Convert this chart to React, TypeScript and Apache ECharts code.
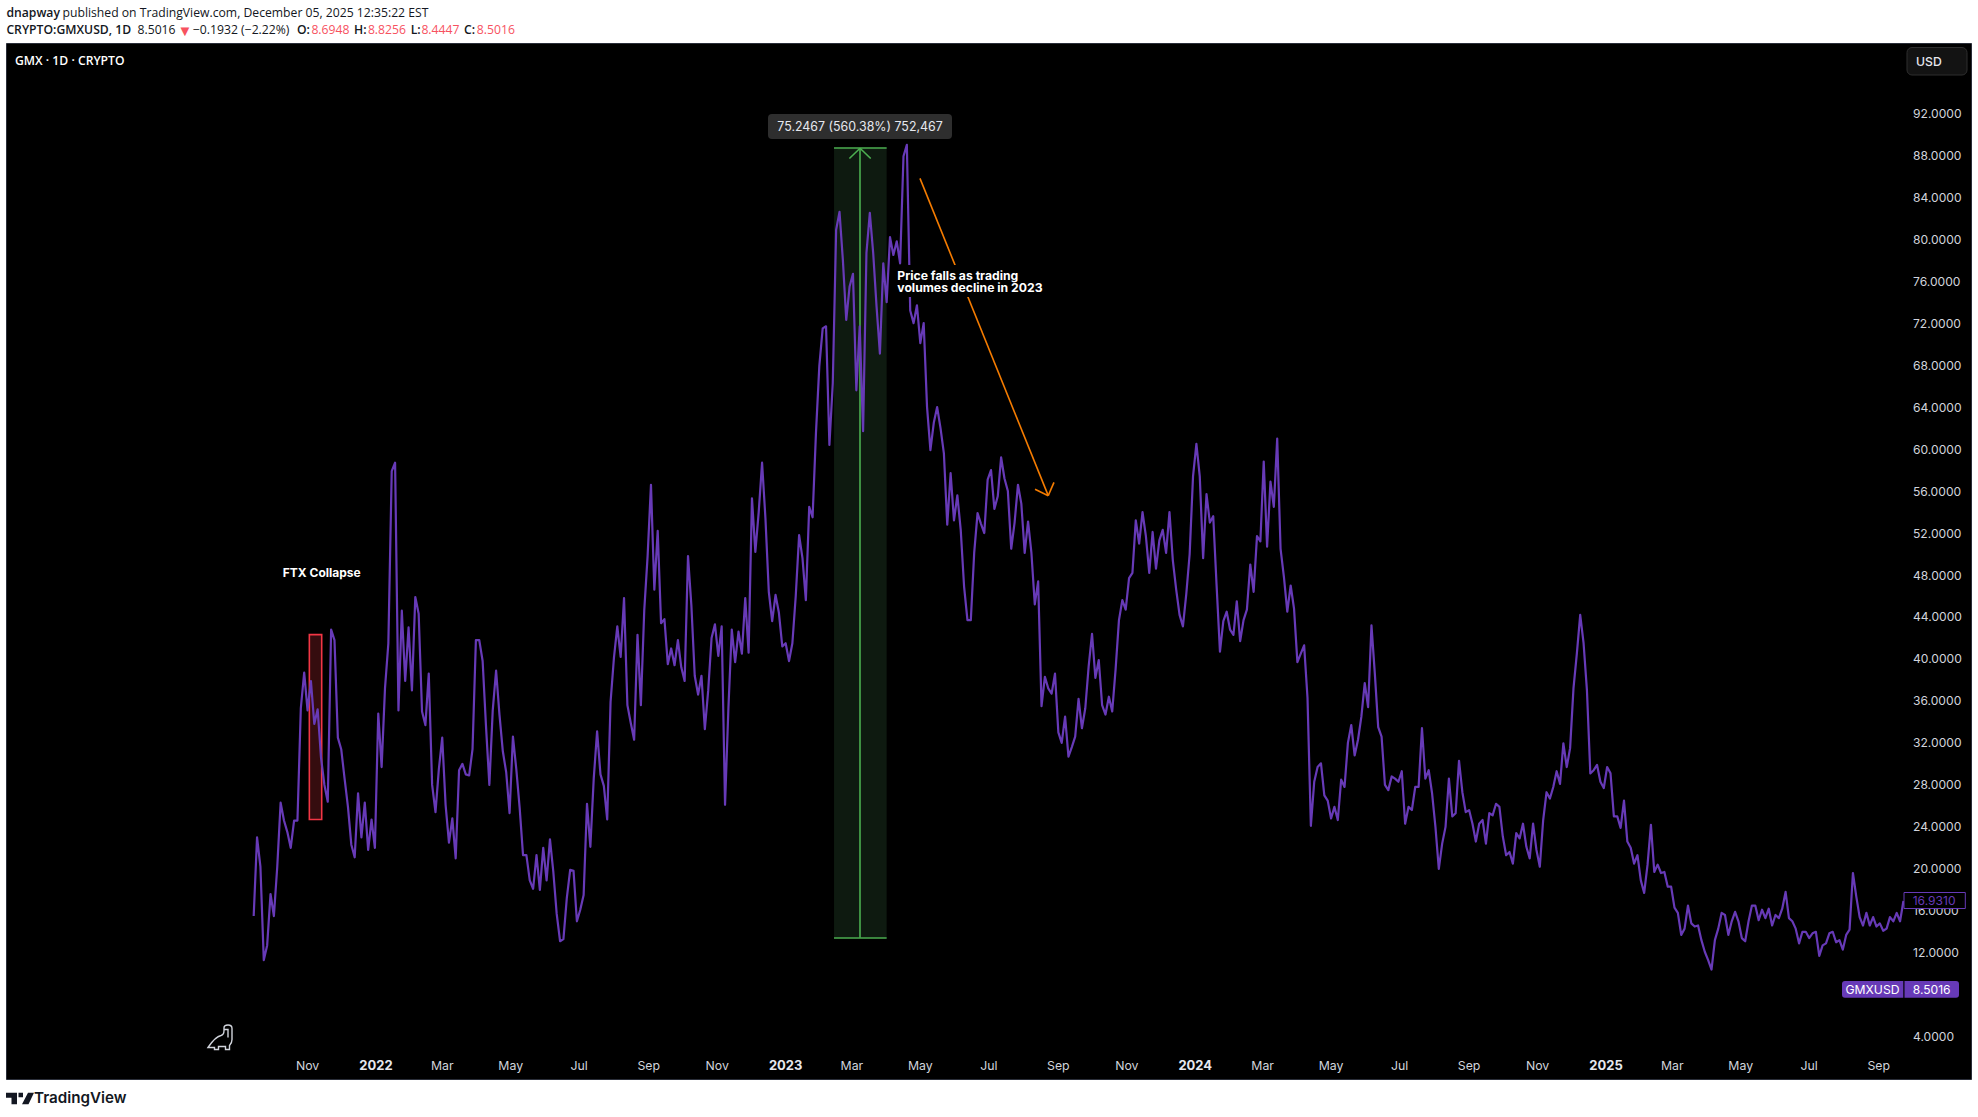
import { useEffect, useRef } from 'react';
import * as echarts from 'echarts';

const DAY = 86400000;
const startDate = Date.UTC(2021, 8, 14);
const stepDays = 3;
const base = Date.UTC(2022, 0, 1);
const at = (d: number) => base + d * DAY;

// closes, one every 3 days
const prices = [
  15.5, 23.0, 20.2, 11.3, 12.7, 17.6, 15.5, 20.2, 26.3, 24.6, 23.5, 22.0, 24.6, 24.6, 35.3, 38.7, 35.1, 37.9, 33.8, 35.2,
  30.6, 28.0, 26.4, 42.8, 41.8, 32.5, 31.4, 28.6, 25.9, 22.3, 21.1, 27.2, 23.0, 26.3, 21.8, 24.7, 22.0, 34.8, 29.7, 37.2,
  41.5, 57.9, 58.7, 35.1, 44.6, 37.9, 43.0, 37.0, 45.9, 44.3, 35.0, 33.7, 38.6, 28.0, 25.4, 29.5, 32.5, 26.1, 22.5, 24.8,
  21.0, 29.4, 30.0, 29.0, 28.9, 31.4, 41.8, 41.8, 39.8, 33.6, 28.0, 35.1, 38.9, 34.7, 31.2, 29.2, 25.3, 32.6, 29.5, 25.8,
  21.3, 21.3, 18.9, 18.1, 21.3, 18.0, 22.0, 18.9, 22.8, 19.7, 15.7, 13.1, 13.3, 17.2, 19.9, 19.8, 15.0, 16.1, 17.5, 26.2,
  22.1, 28.6, 33.1, 29.0, 27.9, 24.7, 35.9, 40.1, 43.1, 40.2, 45.8, 35.6, 33.9, 32.3, 42.3, 35.6, 44.6, 49.8,
  56.6, 46.6, 52.2, 43.4, 43.8, 39.5, 41.0, 39.4, 41.8, 39.2, 37.9, 49.8, 45.1, 38.4, 36.6, 38.4, 33.3, 37.0, 42.0, 43.3,
  40.3, 43.1, 26.1, 35.3, 42.8, 39.7, 42.6, 40.5, 45.8, 40.6, 55.3, 50.2, 54.0, 58.7, 53.4, 46.4, 43.6, 46.1, 44.4, 41.2,
  41.5, 39.8, 41.5, 46.0, 51.8, 49.6, 45.6, 54.5, 53.5,
  61.5, 67.9, 71.5, 71.7, 60.4, 66.3, 80.9, 82.6, 78.0, 72.3, 75.5, 76.7, 65.6, 71.7, 61.7, 78.7, 82.5, 78.7, 73.6, 69.1,
  77.7, 74.0, 80.2, 78.5, 79.8, 77.7, 87.9, 89.0, 73.2, 72.0, 73.7, 70.1, 72.0, 64.0, 59.9, 62.5, 64.0, 62.0, 59.6,
  52.8, 57.7, 53.2, 55.6, 52.3, 46.9, 43.7, 43.7, 50.1, 53.9, 52.9, 52.0, 57.1, 58.0, 54.3, 55.5, 59.2, 57.2, 56.0, 50.5,
  53.0, 56.6, 54.8, 50.1, 53.1, 50.1, 45.2, 47.4, 35.5, 38.3, 37.2, 36.7, 38.6, 33.0, 32.0, 34.5, 30.7, 31.6, 32.6, 36.2,
  33.4, 35.3, 39.3, 42.4, 38.2, 39.9, 35.6, 34.7, 36.4, 35.0, 39.0, 43.7, 45.6, 44.7, 47.7, 48.2, 53.2, 51.0, 54.0, 51.7,
  48.2, 52.1, 48.6, 51.3, 52.3, 50.1, 54.0, 49.4, 46.6, 44.2, 43.1, 46.2, 50.0, 57.4, 60.5, 57.4, 49.6, 55.7, 53.0, 53.6,
  47.0, 40.7, 43.6, 44.5, 42.8, 42.3, 45.5, 41.7, 43.7, 44.7, 49.0, 46.4, 51.7, 51.2, 58.8, 50.7, 56.9, 54.5, 61.0, 50.5,
  47.8, 44.5, 47.0, 44.8, 39.7, 40.5, 41.3, 36.3, 24.1, 28.3, 29.7, 30.05, 27.0, 26.5, 24.8, 25.9, 24.65, 28.5, 27.8, 32.0,
  33.7, 30.8, 32.3, 34.5, 37.7, 35.4, 43.2, 38.6, 33.5, 32.6, 28.0, 27.5, 28.8, 28.6, 28.3, 29.3, 24.3, 25.9, 25.6, 27.8,
  27.8, 33.4, 28.6, 29.4, 27.2, 24.0, 20.0, 22.4, 24.0, 28.6, 25.0, 25.3, 30.3, 27.3, 25.4, 25.6, 24.3, 22.6, 24.3, 24.65,
  22.4, 25.3, 25.1, 26.2, 25.9, 23.1, 21.3, 21.6, 20.5, 23.4, 22.9, 24.3, 22.1, 21.0, 24.3, 21.8, 20.2, 24.65, 27.3, 26.7,
  27.8, 29.3, 28.1, 31.95, 29.7, 31.5, 37.2, 40.5, 44.2, 41.5, 37.0, 29.1, 29.4, 29.9, 28.3, 27.7, 29.7, 29.1, 25.0, 25.0,
  23.9, 26.5, 22.6, 22.0, 20.5, 21.3, 18.9, 17.7, 20.4, 24.2, 19.7, 20.4, 19.6, 19.7, 18.3, 18.3, 16.3,
  15.8, 13.7, 14.3, 16.5, 14.8, 14.5, 14.6, 13.2, 12.1, 11.3, 10.4, 13.2, 14.3, 15.8, 15.6, 13.7, 15.0, 15.9, 15.0, 13.4,
  13.1, 15.0, 16.5, 16.5, 15.1, 16.1, 15.3, 16.2, 14.6, 15.6, 15.3, 16.2, 17.8, 15.3, 15.0, 14.3, 12.9, 14.0, 14.0, 13.4,
  13.85, 14.0, 11.7, 12.7, 12.9, 13.85, 14.0, 13.0, 13.2, 12.3, 13.7, 14.2, 19.6, 17.35, 15.4, 14.6, 15.8, 14.6, 15.4, 14.5,
  14.8, 14.1, 14.3, 15.4, 15.0, 15.8, 15.0, 16.93,
];

const priceTicks = [
  92, 88, 84, 80, 76, 72, 68, 64, 60, 56, 52, 48, 44, 40, 36, 32, 28, 24, 20, 16, 12, 4,
];

const timeTicks: [number, number, string][] = [
  [2021, 10, 'Nov'], [2022, 0, '2022'], [2022, 2, 'Mar'], [2022, 4, 'May'], [2022, 6, 'Jul'], [2022, 8, 'Sep'],
  [2022, 10, 'Nov'], [2023, 0, '2023'], [2023, 2, 'Mar'], [2023, 4, 'May'], [2023, 6, 'Jul'], [2023, 8, 'Sep'],
  [2023, 10, 'Nov'], [2024, 0, '2024'], [2024, 2, 'Mar'], [2024, 4, 'May'], [2024, 6, 'Jul'], [2024, 8, 'Sep'],
  [2024, 10, 'Nov'], [2025, 0, '2025'], [2025, 2, 'Mar'], [2025, 4, 'May'], [2025, 6, 'Jul'], [2025, 8, 'Sep'],
];
const tickLabels = new Map(timeTicks.map(([y, m, l]) => [Date.UTC(y, m, 1), l]));

// drawings on the chart, in days from 2022-01-01 and price
const ftxBox = { from: -59.4, to: -48.4, low: 24.7, high: 42.32 };
const measure = { from: 408.1, mid: 431.3, to: 455, low: 13.43, high: 88.67, headDay: 9.5, headPrice: 0.98 };
const trendArrow = [
  [484.7, 85.8],
  [599, 55.56],
];
const arrowHead = [
  [587.2, 56.17],
  [604.1, 56.83],
];

const INK = '#131722';
const RED = '#f7525f';
const PURPLE = '#673ab7';
const GREEN = '#4caf50';
const ORANGE = '#f57c00';
const UI_FONT = '"Open Sans", "Noto Sans", sans-serif';
const CHART_FONT = 'Inter, Roboto, sans-serif';

echarts.graphic.registerShape(
  'dino',
  echarts.graphic.extendPath(
    'M0 23C4 17 8 12 13 11C15 10.5 16 9 16 6V3.5C16 1.5 18 .5 20 .5C22.5 .5 24 2 24 4V15C24 18 22.5 20 21.5 21V25H17.5V22H10.5V25H6.5V23ZM16.5 5H20V13',
    {},
  ),
);

echarts.graphic.registerShape(
  'tvlogo',
  echarts.graphic.extendPath(
    'M0 0H11V11.5H5.5V5H0ZM12.5 0H17V4.5H12.5ZM22 0H28L22.5 11.5H16Z',
    {},
  ),
);

const headerText = (x: number, y: number, text: string, fill = INK, fontWeight: any = 400, fontSize = 12.2) => ({
  type: 'text',
  x,
  y,
  z: 20,
  style: { text, fill, fontWeight, fontSize, fontFamily: UI_FONT, verticalAlign: 'middle' },
});

const App = () => {
  const chartRef = useRef<HTMLDivElement>(null);

  useEffect(() => {
    if (!chartRef.current) return;
    const chart = echarts.init(chartRef.current, null, { renderer: 'svg' });

    const segment = (a: number[], b: number[], color: string, width = 1.6) => [
      { coord: [at(a[0]), a[1]], lineStyle: { color, width, type: 'solid' } },
      { coord: [at(b[0]), b[1]] },
    ];

    chart.setOption({
      animation: false,
      backgroundColor: '#ffffff',
      grid: { left: 6, width: 1899, top: 71.3, height: 1007.4 },
      xAxis: {
        type: 'value',
        min: at(-329.7),
        max: at(1362.4),
        axisLine: { show: false },
        axisTick: { show: false },
        splitLine: { show: false },
        axisLabel: {
          inside: true,
          margin: 7,
          color: '#d1d4dc',
          fontSize: 12.3,
          fontFamily: CHART_FONT,
          customValues: timeTicks.map(([y, m]) => Date.UTC(y, m, 1)),
          hideOverlap: false,
          rich: { year: { color: '#e6e8ee', fontSize: 13, fontWeight: 700, fontFamily: CHART_FONT } },
          formatter: (value: number) => {
            const label = tickLabels.get(value) ?? '';
            return label.startsWith('20') ? `{year|${label}}` : label;
          },
        },
      },
      yAxis: {
        type: 'value',
        position: 'right',
        min: 0,
        max: 96,
        interval: 4,
        axisLine: { show: false },
        axisTick: { show: false },
        splitLine: { show: false },
        axisLabel: {
          margin: 8,
          color: '#d1d4dc',
          fontSize: 12.1,
          fontFamily: CHART_FONT,
          customValues: priceTicks,
          formatter: (value: number) => value.toFixed(4),
        },
      },
      series: [
        {
          type: 'line',
          name: 'GMXUSD',
          showSymbol: false,
          silent: true,
          z: 5,
          lineStyle: { color: PURPLE, width: 2.2, join: 'round' },
          data: prices.map((p, i) => [startDate + i * stepDays * DAY, p]),
          markArea: {
            silent: true,
            data: [
              [
                {
                  coord: [at(measure.from), measure.high],
                  itemStyle: { color: '#0e1a10', borderWidth: 0 },
                },
                { coord: [at(measure.to), measure.low] },
              ],
              [
                {
                  coord: [at(ftxBox.from), ftxBox.high],
                  itemStyle: { color: 'rgba(242,54,69,0.22)', borderColor: '#f23645', borderWidth: 1.6 },
                },
                { coord: [at(ftxBox.to), ftxBox.low] },
              ],
            ],
          },
          markLine: {
            silent: true,
            symbol: 'none',
            label: { show: false },
            data: [
              segment([measure.from, measure.high], [measure.to, measure.high], GREEN),
              segment([measure.from, measure.low], [measure.to, measure.low], GREEN),
              segment([measure.mid, measure.low], [measure.mid, measure.high], GREEN),
              segment([measure.mid - measure.headDay, measure.high - measure.headPrice], [measure.mid, measure.high], GREEN),
              segment([measure.mid + measure.headDay, measure.high - measure.headPrice], [measure.mid, measure.high], GREEN),
              segment(trendArrow[0], trendArrow[1], ORANGE),
              segment(arrowHead[0], trendArrow[1], ORANGE),
              segment(arrowHead[1], trendArrow[1], ORANGE),
            ],
          },
        },
      ],
      graphic: [
        // black pane
        { type: 'rect', z: -1, shape: { x: 6.5, y: 43.5, width: 1965, height: 1036 }, style: { fill: '#000000', stroke: '#2a2e39', lineWidth: 1 } },

        // header
        headerText(6.4, 12.6, 'dnapway', INK, 600),
        headerText(62.5, 12.6, 'published on TradingView.com, December 05, 2025 12:35:22 EST'),
        headerText(6.4, 29.5, 'CRYPTO:GMXUSD, 1D', INK, 600),
        headerText(137.5, 29.5, '8.5016'),
        headerText(177.5, 29.5, '▼', RED, 400, 15),
        headerText(192.9, 29.5, '−0.1932 (−2.22%)'),
        headerText(297, 29.5, 'O:', INK, 600),
        headerText(311.4, 29.5, '8.6948', RED),
        headerText(354, 29.5, 'H:', INK, 600),
        headerText(367.9, 29.5, '8.8256', RED),
        headerText(410.7, 29.5, 'L:', INK, 600),
        headerText(421.4, 29.5, '8.4447', RED),
        headerText(464, 29.5, 'C:', INK, 600),
        headerText(476.8, 29.5, '8.5016', RED),

        { type: 'text', x: 15, y: 60.5, z: 20, style: { text: 'GMX · 1D · CRYPTO', fill: '#ffffff', fontSize: 12.2, fontWeight: 600, fontFamily: UI_FONT, verticalAlign: 'middle' } },

        // currency button
        { type: 'rect', z: 20, shape: { x: 1907, y: 47.5, width: 60, height: 27.5, r: 5 }, style: { fill: '#131313', stroke: '#2e2e2e', lineWidth: 1 } },
        { type: 'text', x: 1916, y: 61.5, z: 21, style: { text: 'USD', fill: '#e6e8ee', fontSize: 12.2, fontWeight: 500, fontFamily: CHART_FONT, verticalAlign: 'middle' } },

        // measure label
        { type: 'rect', z: 20, shape: { x: 768, y: 114, width: 184, height: 25, r: 4 }, style: { fill: '#2e2e2e' } },
        { type: 'text', x: 860, y: 126.5, z: 21, style: { text: '75.2467 (560.38%) 752,467', fill: '#e6e8ee', fontSize: 12.4, fontFamily: CHART_FONT, align: 'center', verticalAlign: 'middle' } },

        // notes
        { type: 'text', x: 321.7, y: 572, z: 21, style: { text: 'FTX Collapse', fill: '#ffffff', fontSize: 12, fontWeight: 700, fontFamily: CHART_FONT, align: 'center', verticalAlign: 'middle' } },
        { type: 'rect', z: 20, shape: { x: 895, y: 265, width: 152, height: 32 }, style: { fill: '#000000' } },
        { type: 'text', x: 897.3, y: 275.7, z: 21, style: { text: 'Price falls as trading', fill: '#ffffff', fontSize: 12.2, fontWeight: 700, fontFamily: CHART_FONT, verticalAlign: 'middle' } },
        { type: 'text', x: 897.3, y: 287.7, z: 21, style: { text: 'volumes decline in 2023', fill: '#ffffff', fontSize: 12.2, fontWeight: 700, fontFamily: CHART_FONT, verticalAlign: 'middle' } },

        // last price tags
        { type: 'rect', z: 20, shape: { x: 1904, y: 892.5, width: 61.3, height: 16 }, style: { fill: '#000000', stroke: PURPLE, lineWidth: 1 } },
        { type: 'text', x: 1912.7, y: 900.5, z: 21, style: { text: '16.9310', fill: PURPLE, fontSize: 12.1, fontFamily: CHART_FONT, verticalAlign: 'middle' } },
        { type: 'rect', z: 20, shape: { x: 1842, y: 981, width: 61.3, height: 16.7, r: [3, 0, 0, 3] }, style: { fill: PURPLE } },
        { type: 'rect', z: 20, shape: { x: 1904.5, y: 981, width: 54.5, height: 16.7, r: [0, 3, 3, 0] }, style: { fill: PURPLE } },
        { type: 'text', x: 1872.5, y: 989.3, z: 21, style: { text: 'GMXUSD', fill: '#ffffff', fontSize: 12.2, fontFamily: CHART_FONT, align: 'center', verticalAlign: 'middle' } },
        { type: 'text', x: 1912.7, y: 989.3, z: 21, style: { text: '8.5016', fill: '#ffffff', fontSize: 12.1, fontFamily: CHART_FONT, verticalAlign: 'middle' } },

        // logos
        { type: 'dino', x: 208, y: 1024.5, z: 20, style: { fill: 'none', stroke: '#d1d4dc', lineWidth: 1.4 } },
        { type: 'tvlogo', x: 6, y: 1092.7, z: 20, style: { fill: INK } },
        { type: 'text', x: 34, y: 1097.5, z: 20, style: { text: 'TradingView', fill: INK, fontSize: 15.2, fontWeight: 600, fontFamily: 'Inter, sans-serif', verticalAlign: 'middle' } },
      ],
    });

    return () => {
      chart.dispose();
    };
  }, []);

  return <div ref={chartRef} style={{ position: 'fixed', left: 0, top: 0, width: 1978, height: 1117 }} />;
};

export default App;
